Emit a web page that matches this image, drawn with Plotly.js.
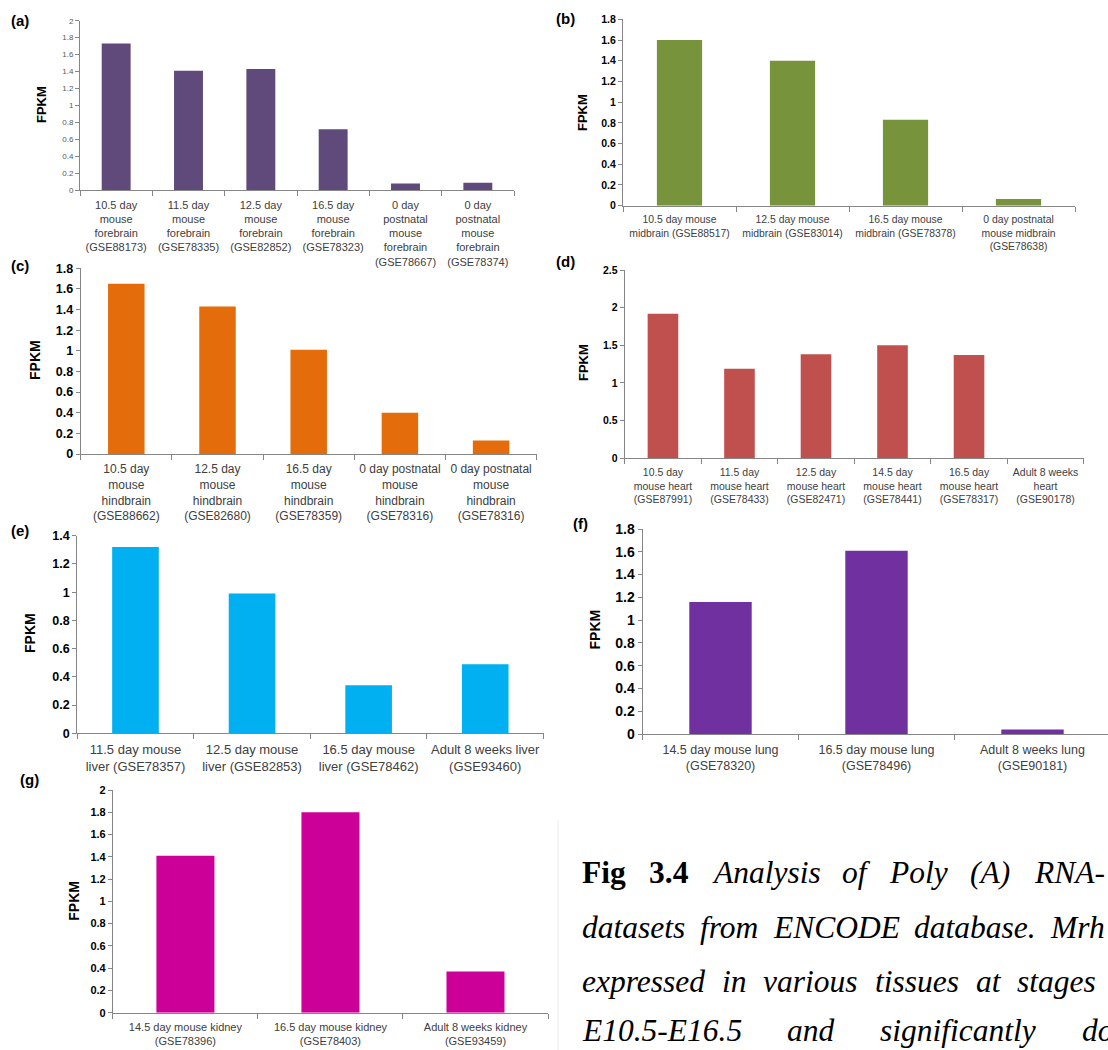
<!DOCTYPE html>
<html>
<head>
<meta charset="utf-8">
<script src="https://cdn.plot.ly/plotly-3.0.1.min.js"></script>
<style>html,body{margin:0;padding:0;background:#fff;}#chart{width:1108px;height:1050px;}</style>
</head>
<body>
<div id="chart"></div>
<script>
// ---------- DATA ----------
const catsA = ["10.5 day<br>mouse<br>forebrain<br>(GSE88173)", "11.5 day<br>mouse<br>forebrain<br>(GSE78335)", "12.5 day<br>mouse<br>forebrain<br>(GSE82852)", "16.5 day<br>mouse<br>forebrain<br>(GSE78323)", "0 day<br>postnatal<br>mouse<br>forebrain<br>(GSE78667)", "0 day<br>postnatal<br>mouse<br>forebrain<br>(GSE78374)"];
const valsA = [1.73, 1.41, 1.43, 0.72, 0.08, 0.09];

const catsB = ["10.5 day mouse<br>midbrain (GSE88517)", "12.5 day mouse<br>midbrain (GSE83014)", "16.5 day mouse<br>midbrain (GSE78378)", "0 day postnatal<br>mouse midbrain<br>(GSE78638)"];
const valsB = [1.6, 1.4, 0.83, 0.065];

const catsC = ["10.5 day<br>mouse<br>hindbrain<br>(GSE88662)", "12.5 day<br>mouse<br>hindbrain<br>(GSE82680)", "16.5 day<br>mouse<br>hindbrain<br>(GSE78359)", "0 day postnatal<br>mouse<br>hindbrain<br>(GSE78316)", "0 day postnatal<br>mouse<br>hindbrain<br>(GSE78316)"];
const valsC = [1.65, 1.43, 1.01, 0.40, 0.13];

const catsD = ["10.5 day<br>mouse heart<br>(GSE87991)", "11.5 day<br>mouse heart<br>(GSE78433)", "12.5 day<br>mouse heart<br>(GSE82471)", "14.5 day<br>mouse heart<br>(GSE78441)", "16.5 day<br>mouse heart<br>(GSE78317)", "Adult 8 weeks<br>heart<br>(GSE90178)"];
const valsD = [1.92, 1.19, 1.38, 1.50, 1.37, 0];

const catsE = ["11.5 day mouse<br>liver (GSE78357)", "12.5 day mouse<br>liver (GSE82853)", "16.5 day mouse<br>liver (GSE78462)", "Adult 8 weeks liver<br>(GSE93460)"];
const valsE = [1.32, 0.99, 0.34, 0.49];

const catsF = ["14.5 day mouse lung<br>(GSE78320)", "16.5 day mouse lung<br>(GSE78496)", "Adult 8 weeks lung<br>(GSE90181)"];
const valsF = [1.16, 1.61, 0.04];

const catsG = ["14.5 day mouse kidney<br>(GSE78396)", "16.5 day mouse kidney<br>(GSE78403)", "Adult 8 weeks kidney<br>(GSE93459)"];
const valsG = [1.41, 1.80, 0.37];

const panelLabels = ["(a)", "(b)", "(c)", "(d)", "(e)", "(f)", "(g)"];
const yTitle = "FPKM";

const captionLines = [
  ["Fig", "3.4", "Analysis", "of", "Poly", "(A)", "RNA-"],
  ["datasets", "from", "ENCODE", "database.", "Mrh"],
  ["expressed", "in", "various", "tissues", "at", "stages"],
  ["E10.5-E16.5", "and", "significantly", "do"]
];

// ---------- LAYOUT ----------
const W = 1108, H = 1050;
const px = x => x / W;
const py = y => 1 - y / H;
const AX = '#868686';
const SANS = 'Arial, "Liberation Sans", sans-serif';
const SERIF = '"Liberation Serif", "Times New Roman", serif';

// x0/x1: pixel extent of the category axis (x1 may run past the picture edge)
const panels = [
  {cats: catsA, vals: valsA, color: '#604A7B', ymax: 2,   dtick: 0.2, x0: 80,    x1: 514,   yb: 190.3,  yt: 20.7,
   tf: {size: 8, color: '#595959', weight: 400}, cf: 11, lab: [20, 20], fp: [42, 105], fs: 13},
  {cats: catsB, vals: valsB, color: '#77933C', ymax: 1.8, dtick: 0.2, x0: 623,   x1: 1075,  yb: 205.7,  yt: 19.3,
   tf: {size: 10.5, color: '#000', weight: 700}, cf: 10.4, lab: [565, 19], fp: [582, 113], fs: 13},
  {cats: catsC, vals: valsC, color: '#E46C0A', ymax: 1.8, dtick: 0.2, x0: 80.7,  x1: 536.7, yb: 454,    yt: 268.3,
   tf: {size: 12.5, color: '#000', weight: 700}, cf: 12, lab: [20, 265], fp: [35, 360], fs: 14},
  {cats: catsD, vals: valsD, color: '#C0504D', ymax: 2.5, dtick: 0.5, x0: 624.7, x1: 1083.8, yb: 458.3, yt: 270,
   tf: {size: 10.5, color: '#000', weight: 700}, cf: 10.5, lab: [565, 262], fp: [584, 363], fs: 13},
  {cats: catsE, vals: valsE, color: '#00B0F0', ymax: 1.4, dtick: 0.2, x0: 77.2,  x1: 543.5, yb: 733.3,  yt: 535.7,
   tf: {size: 12.5, color: '#000', weight: 700}, cf: 13, lab: [20, 530], fp: [30, 633], fs: 14},
  {cats: catsF, vals: valsF, color: '#7030A0', ymax: 1.8, dtick: 0.2, x0: 642.5, x1: 1110.5, yb: 734,    yt: 529,
   tf: {size: 14, color: '#000', weight: 700}, cf: 12.5, lab: [580, 523], fp: [594.5, 630], fs: 14},
  {cats: catsG, vals: valsG, color: '#CC0099', ymax: 2,   dtick: 0.2, x0: 112.9, x1: 548,   yb: 1012.7, yt: 790,
   tf: {size: 11, color: '#000', weight: 700}, cf: 11, lab: [29, 779], fp: [73.7, 901], fs: 14}
];

const data = [];
const layout = {
  width: W, height: H,
  margin: {l: 0, r: 0, t: 0, b: 0, pad: 0},
  paper_bgcolor: '#fff', plot_bgcolor: 'rgba(0,0,0,0)',
  showlegend: false,
  bargap: 0.6,
  annotations: [],
  shapes: []
};

panels.forEach((p, i) => {
  const k = i === 0 ? '' : String(i + 1);
  const n = p.cats.length;
  const idx = p.cats.map((_, j) => j);
  const bounds = p.cats.map((_, j) => j - 0.5).concat([n - 0.5]);
  const xr = Math.min(p.x1, W);
  const rEnd = -0.5 + n * (xr - p.x0) / (p.x1 - p.x0);
  data.push({
    type: 'bar', x: idx, y: p.vals, xaxis: 'x' + k, yaxis: 'y' + k,
    marker: {color: p.color, line: {width: 0}}, hoverinfo: 'skip'
  });
  layout['xaxis' + k] = {
    domain: [px(p.x0), px(xr)], anchor: 'y' + k,
    range: [-0.5, rEnd],
    tickmode: 'array', tickvals: idx, ticktext: p.cats, tickangle: 0,
    ticks: '', showline: true, linecolor: AX, linewidth: 1,
    showgrid: false, zeroline: false, fixedrange: true, automargin: false,
    ticklabelstandoff: 4,
    tickfont: {family: SANS, size: p.cf, color: '#404040'},
    minor: {tickmode: 'array', tickvals: bounds, ticks: 'outside', ticklen: 5, tickwidth: 1, tickcolor: AX, showgrid: false}
  };
  layout['yaxis' + k] = {
    domain: [py(p.yb), py(p.yt)], anchor: 'x' + k,
    range: [0, p.ymax], tickmode: 'linear', tick0: 0, dtick: p.dtick,
    ticks: 'outside', ticklen: 4, tickwidth: 1, tickcolor: AX,
    showline: true, linecolor: AX, linewidth: 1,
    showgrid: false, zeroline: false, fixedrange: true, automargin: false,
    tickfont: Object.assign({family: SANS}, p.tf)
  };
  layout.annotations.push({
    xref: 'paper', yref: 'paper', x: px(p.lab[0]), y: py(p.lab[1]),
    xanchor: 'center', yanchor: 'middle', showarrow: false,
    text: '<b>' + panelLabels[i] + '</b>',
    font: {family: SANS, size: 15, color: '#000'}
  });
  layout.annotations.push({
    xref: 'paper', yref: 'paper', x: px(p.fp[0]), y: py(p.fp[1]),
    xanchor: 'center', yanchor: 'middle', showarrow: false, textangle: -90,
    text: '<b>' + yTitle + '</b>',
    font: {family: SANS, size: p.fs, color: '#000'}
  });
});

// Caption: justified text, one annotation per word.
// Each line runs from its left edge to the left edge of its last visible word.
const CAP_SIZE = 31.5;
const lineLeft = [583.3, 583.3, 583.3, 583.3];
const lastWordX = [1034.7, 1051.3, 1018, 1083];
const lineY = [872.7, 927.2, 981.7, 1030];
const ctx = document.createElement('canvas').getContext('2d');
const wordWidth = (w, bold) => {
  ctx.font = (bold ? 'bold ' : 'italic ') + CAP_SIZE + 'px "Liberation Serif", "Times New Roman", serif';
  return ctx.measureText(w).width;
};
captionLines.forEach((words, li) => {
  const isBold = wi => li === 0 && wi < 2;
  const widths = words.map((w, wi) => wordWidth(w, isBold(wi)));
  const inner = widths.slice(0, -1).reduce((a, b) => a + b, 0);
  const gap = (lastWordX[li] - lineLeft[li] - inner) / (words.length - 1);
  let x = lineLeft[li];
  words.forEach((w, wi) => {
    const xx = wi === words.length - 1 ? lastWordX[li] : x;
    layout.annotations.push({
      xref: 'paper', yref: 'paper', x: px(xx - 3), y: py(lineY[li]),
      xanchor: 'left', yanchor: 'middle', showarrow: false,
      text: isBold(wi) ? '<b>' + w + '</b>' : '<i>' + w + '</i>',
      font: {family: SERIF, size: CAP_SIZE, color: '#000'}
    });
    x += widths[wi] + gap;
  });
});

layout.shapes.push({
  type: 'line', xref: 'paper', yref: 'paper',
  x0: px(558), x1: px(558), y0: py(820), y1: py(1050),
  line: {color: '#ececec', width: 1}
});

Plotly.newPlot('chart', data, layout, {staticPlot: true, displayModeBar: false});
</script>
</body>
</html>
